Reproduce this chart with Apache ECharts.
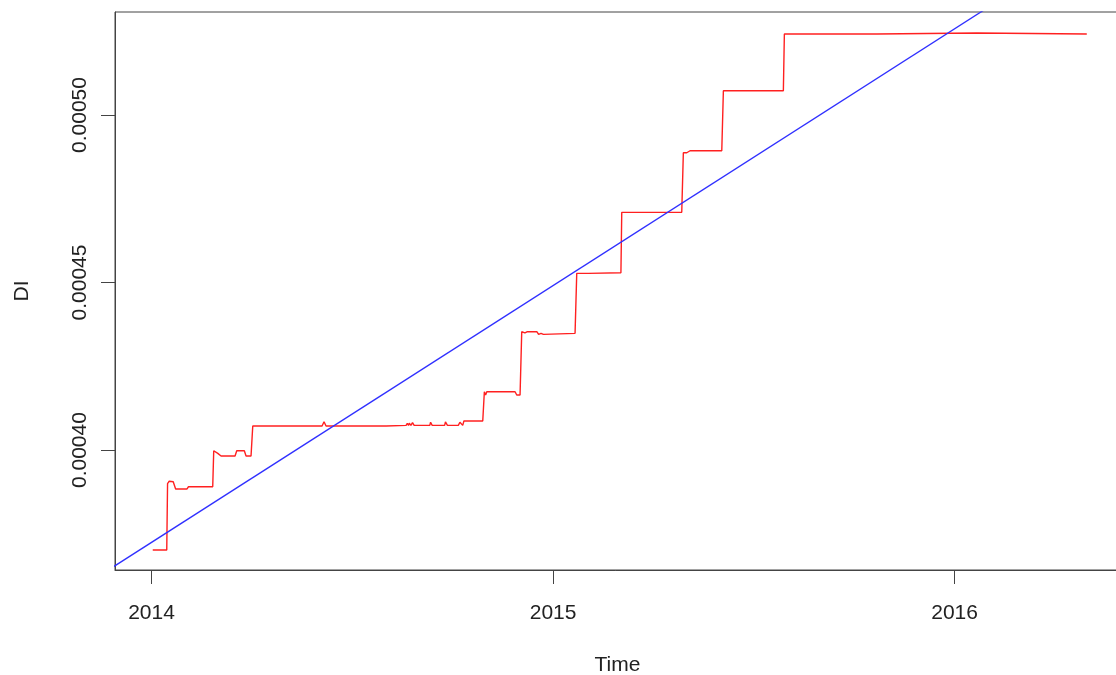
<!DOCTYPE html>
<html>
<head>
<meta charset="utf-8">
<script src="https://cdn.jsdelivr.net/npm/echarts@6/dist/echarts.min.js"></script>
<style>html,body{margin:0;padding:0;background:#fff}#c{width:1116px;height:675px}</style>
</head>
<body>
<div id="c"></div>
<script>
// Decimal-year time and DI values of the red series
var redTime = [2014.0030,2014.0379,2014.0399,2014.0440,2014.0540,2014.0600,2014.0880,2014.0920,2014.1524,2014.1549,2014.1650,2014.1731,2014.2080,2014.2122,2014.2311,2014.2354,2014.2478,2014.2521,2014.4247,2014.4296,2014.4346,2014.5841,2014.5890,2014.6340,2014.6370,2014.6400,2014.6420,2014.6460,2014.6500,2014.6540,2014.6930,2014.6950,2014.6990,2014.7300,2014.7320,2014.7370,2014.7640,2014.7680,2014.7720,2014.7750,2014.7780,2014.8249,2014.8289,2014.8320,2014.8350,2014.9054,2014.9096,2014.9178,2014.9220,2014.9300,2014.9350,2014.9600,2014.9640,2014.9700,2014.9760,2014.9800,2015.0548,2015.0590,2015.0879,2015.0900,2015.1690,2015.1711,2015.2200,2015.2249,2015.2300,2015.3150,2015.3190,2015.3205,2015.3245,2015.3330,2015.3412,2015.4202,2015.4242,2015.5736,2015.5761,2015.8062,2015.8080,2016.0553,2016.0580,2016.3293];
var redDI = [0.00037015,0.00037015,0.00039000,0.00039070,0.00039054,0.00038836,0.00038836,0.00038905,0.00038905,0.00039979,0.00039900,0.00039821,0.00039821,0.00039979,0.00039979,0.00039821,0.00039821,0.00040716,0.00040716,0.00040845,0.00040716,0.00040716,0.00040736,0.00040736,0.00040800,0.00040736,0.00040800,0.00040736,0.00040820,0.00040736,0.00040736,0.00040830,0.00040736,0.00040736,0.00040840,0.00040736,0.00040736,0.00040830,0.00040800,0.00040736,0.00040866,0.00040866,0.00041740,0.00041642,0.00041740,0.00041740,0.00041642,0.00041642,0.00043531,0.00043500,0.00043531,0.00043531,0.00043454,0.00043484,0.00043454,0.00043484,0.00043484,0.00045275,0.00045275,0.00045293,0.00045293,0.00047095,0.00047095,0.00047134,0.00047095,0.00047095,0.00047060,0.00047095,0.00048874,0.00048874,0.00048934,0.00048934,0.00050725,0.00050725,0.00052418,0.00052418,0.00052448,0.00052448,0.00052418,0.00052418];
// Trend line (blue) endpoints
var trendTime = [2013.85, 2016.2];
var trendDI = [0.00036095, 0.00054106];
// Tick labels
var xTicks = [2014, 2015, 2016];
var yTicks = [0.00040, 0.00045, 0.00050];

var redData = redTime.map(function(t,i){return [t, redDI[i]];});
var trendData = trendTime.map(function(t,i){return [t, trendDI[i]];});

var font = 'Liberation Sans';
var chart = echarts.init(document.getElementById('c'), null, {renderer:'canvas'});
chart.setOption({
  animation:false,
  backgroundColor:'#fff',
  grid:{left:115, top:12, right:-4, bottom:105, show:true, borderColor:'#444', borderWidth:1, containLabel:false, outerBoundsMode:'none'},
  xAxis:{
    type:'value', min:2013.909, max:2016.412,
    name:'Time', nameLocation:'middle', nameGap:85,
    nameTextStyle:{fontFamily:font, fontSize:21, color:'#222'},
    axisLine:{show:true, lineStyle:{color:'#444', width:1}},
    axisTick:{show:true, length:14, inside:false, customValues:xTicks, lineStyle:{color:'#444'}},
    axisLabel:{customValues:xTicks, margin:33, fontFamily:font, fontSize:21, color:'#222', formatter:function(v){return String(v);}},
    splitLine:{show:false}
  },
  yAxis:{
    type:'value', min:0.0003642, max:0.00053075,
    name:'DI', nameLocation:'middle', nameGap:82,
    nameTextStyle:{fontFamily:font, fontSize:21, color:'#222'},
    axisLine:{show:true, lineStyle:{color:'#444', width:1}},
    axisTick:{show:true, length:14, inside:false, customValues:yTicks, lineStyle:{color:'#444'}},
    axisLabel:{customValues:yTicks, rotate:90, margin:24, fontFamily:font, fontSize:21, color:'#222', formatter:function(v){return v.toFixed(5);}},
    splitLine:{show:false}
  },
  series:[
    {type:'line', data:redData, showSymbol:false, symbol:'none', lineStyle:{color:'#ff2020', width:1.4}, clip:true, z:2},
    {type:'line', data:trendData, showSymbol:false, symbol:'none', lineStyle:{color:'#3030ff', width:1.3}, clip:true, z:3}
  ]
});
</script>
</body>
</html>
